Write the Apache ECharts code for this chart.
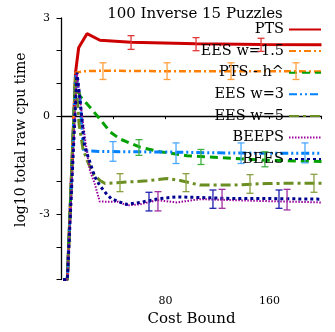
<!DOCTYPE html>
<html><head><meta charset="utf-8">
<script src="https://cdn.jsdelivr.net/npm/echarts@6/dist/echarts.min.js"></script>
<style>html,body{margin:0;padding:0;background:#fff}#c{width:335px;height:332px}</style>
</head><body><div id="c"></div>
<script>
const titleText = '100 Inverse 15 Puzzles';
const xAxisName = 'Cost Bound';
const yAxisName = 'log10 total raw cpu time';
const xTickLabels = [80, 160];
const yTickLabels = [3, 0, -3];
const seriesNames = ['PTS', 'EES w=1.5', 'PTS - h^', 'EES w=3', 'EES w=5', 'BEEPS', 'BEES'];

// [cost bound, log10 time]
const ptsData = [[1.2,-5],[4.5,-5],[10.8,1.33],[13.2,2.09],[19.6,2.52],[29.6,2.32],[53.5,2.26],[103.5,2.21],[153.5,2.19],[200,2.18]];
const ees15Data = [[1.2,-5],[4.5,-5],[10.8,1.33],[16.8,1.37],[31.9,1.39],[81.2,1.37],[130.4,1.37],[180.4,1.37],[200,1.36]];
const ptsHData = [[1.2,-5],[4.5,-5],[10.8,1.18],[14.2,0.61],[21.9,0.27],[29.6,-0.09],[37.3,-0.48],[45,-0.70],[60.4,-0.95],[75.8,-1.09],[96.5,-1.21],[131.9,-1.29],[158.1,-1.35],[200,-1.39]];
const ees3Data = [[1.2,-5],[4.5,-5],[10.8,1.27],[14.2,0.52],[16.9,-1.06],[29.6,-1.08],[52.7,-1.09],[83.5,-1.10],[129.6,-1.13],[200,-1.14]];
const ees5Data = [[1.2,-5],[4.5,-5],[10.8,1.24],[13.5,-0.24],[16.5,-1.0],[20.4,-1.42],[25,-1.79],[29.6,-1.97],[33.5,-2.06],[45,-2.03],[65.8,-1.98],[81.2,-1.91],[91.2,-1.97],[106.5,-2.11],[131.9,-2.11],[158.1,-2.06],[200,-2.05]];
const beepsData = [[1.2,-5],[4.5,-5],[11.9,1.33],[14.2,0.52],[18.1,-0.70],[21.9,-1.67],[25.5,-2.06],[29.4,-2.61],[35.8,-2.62],[43.5,-2.62],[50.4,-2.73],[60.4,-2.70],[73.5,-2.57],[88.8,-2.64],[106.5,-2.54],[131.9,-2.57],[158.1,-2.60],[200,-2.64]];
const beesData = [[1.2,-5],[4.5,-5],[11.9,1.33],[14.2,0.52],[17.8,-0.94],[21.7,-1.39],[25.5,-1.85],[29.4,-2.12],[34.2,-2.36],[38.1,-2.52],[43.5,-2.61],[50.4,-2.70],[60.4,-2.64],[75.8,-2.52],[88.8,-2.47],[106.5,-2.49],[131.9,-2.52],[158.1,-2.52],[200,-2.54]];

// error bars: [cost bound, low, high]
const ptsErr = [[53.5,2.04,2.46],[103.5,2.0,2.4],[153.5,1.98,2.38]];
const ees15Err = [[31.9,1.12,1.63],[81.2,1.12,1.63],[130.4,1.12,1.63],[180.4,1.12,1.63]];
const ptsHErr = [[59.6,-1.2,-0.72],[107.3,-1.48,-1.02],[156.5,-1.55,-1.09]];
const ees3Err = [[39.6,-1.38,-0.78],[88.1,-1.45,-0.82],[138.1,-1.45,-0.82],[187.3,-1.43,-0.82]];
const ees5Err = [[45,-2.31,-1.76],[95.8,-2.31,-1.76],[145,-2.36,-1.79],[194.2,-2.33,-1.78]];
const beepsErr = [[74.2,-2.9,-2.31],[123.5,-2.82,-2.24],[173.5,-2.87,-2.24]];
const beesErr = [[67.3,-2.9,-2.33],[116.5,-2.82,-2.26],[167.3,-2.82,-2.26]];

const FONT = 'DejaVu Serif';

function lineSeries(name, data, color, width, type, cap) {
  return { name, type: 'line', data, symbol: 'none', clip: false, animation: false,
    itemStyle: { color }, lineStyle: { color, width, type, cap: cap || 'butt' }, z: 3 };
}
function errSeries(data, color) {
  return { type: 'custom', data, clip: false, silent: true, animation: false, z: 4,
    encode: { x: 0, y: [1, 2] },
    renderItem: function (params, api) {
      const x = api.value(0), lo = api.value(1), hi = api.value(2);
      const a = api.coord([x, lo]), b = api.coord([x, hi]);
      const w = 3.5;
      const style = { stroke: color, lineWidth: 1.3, fill: null };
      return { type: 'group', children: [
        { type: 'line', shape: { x1: a[0], y1: a[1], x2: b[0], y2: b[1] }, style },
        { type: 'line', shape: { x1: a[0] - w, y1: a[1], x2: a[0] + w, y2: a[1] }, style },
        { type: 'line', shape: { x1: b[0] - w, y1: b[1], x2: b[0] + w, y2: b[1] }, style }
      ]};
    }
  };
}

const chart = echarts.init(document.getElementById('c'), null, { renderer: 'canvas' });
chart.setOption({
  animation: false,
  backgroundColor: '#fff',
  title: { text: titleText, left: 190, textAlign: 'center', top: 2,
    textStyle: { fontFamily: FONT, fontSize: 15, fontWeight: 'normal', color: '#000' } },
  grid: { left: 61.5, right: 13.5, top: 18, bottom: 49.5 },
  legend: { data: seriesNames, orient: 'vertical', right: 13, top: 22, align: 'right',
    itemWidth: 32, itemHeight: 14, itemGap: 6.6, padding: 0, selectedMode: false,
    itemStyle: { opacity: 0 },
    textStyle: { fontFamily: FONT, fontSize: 14.5, color: '#000', lineHeight: 13 } },
  xAxis: { type: 'value', min: 0, max: 200, interval: 40, offset: 7.5,
    name: xAxisName, nameLocation: 'middle', nameGap: 22,
    nameTextStyle: { fontFamily: FONT, fontSize: 15, color: '#000' },
    axisLine: { show: true, lineStyle: { color: '#000', width: 1.3 } },
    axisTick: { show: true, length: 3, lineStyle: { color: '#000', width: 1 } },
    axisLabel: { fontFamily: FONT, fontSize: 11, color: '#000', margin: 9,
      formatter: v => xTickLabels.includes(v) ? String(v) : '' },
    splitLine: { show: false } },
  yAxis: { type: 'value', min: -5, max: 3, interval: 1, offset: 6.5,
    name: yAxisName, nameLocation: 'middle', nameGap: 27,
    nameTextStyle: { fontFamily: FONT, fontSize: 14, color: '#000', padding: [0, 0, 0, 18] },
    axisLine: { show: true, lineStyle: { color: '#000', width: 1.3 } },
    axisTick: { show: true, length: 5, lineStyle: { color: '#000', width: 1 } },
    axisLabel: { fontFamily: FONT, fontSize: 11, color: '#000', margin: 5,
      formatter: v => yTickLabels.includes(v) ? String(v) : '' },
    splitLine: { show: false } },
  series: [
    lineSeries('PTS', ptsData, '#cc0000', 3, 'solid'),
    lineSeries('EES w=1.5', ees15Data, '#ff8000', 2.5, [7, 3, 2, 3]),
    lineSeries('PTS - h^', ptsHData, '#00a000', 3, [8, 5]),
    lineSeries('EES w=3', ees3Data, '#0080ff', 3, [8, 3, 2, 3, 2, 3]),
    lineSeries('EES w=5', ees5Data, '#6b8e23', 3, [10, 4, 3, 4]),
    lineSeries('BEEPS', beepsData, '#990099', 2, [1.5, 1.5]),
    lineSeries('BEES', beesData, '#000090', 3, [3, 3]),
    errSeries(ptsErr, '#e23a3a'),
    errSeries(ees15Err, '#ffa040'),
    errSeries(ptsHErr, '#40b040'),
    errSeries(ees3Err, '#4aa8ff'),
    errSeries(ees5Err, '#8aa040'),
    errSeries(beepsErr, '#a030a0'),
    errSeries(beesErr, '#2020b0')
  ]
});
</script>
</body></html>
